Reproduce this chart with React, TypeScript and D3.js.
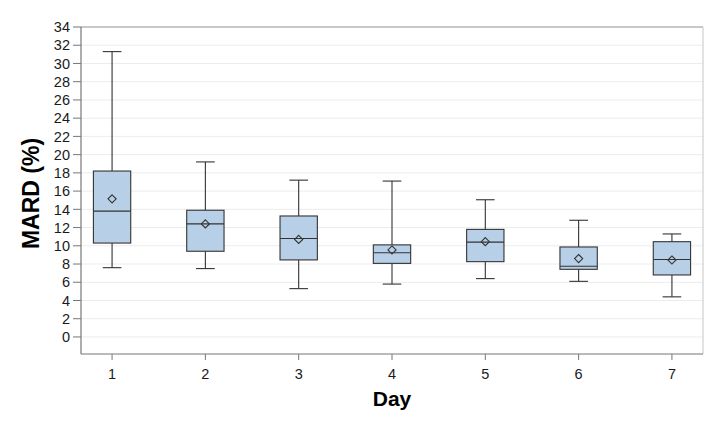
import React from "react";
import * as d3 from "d3";

const days = ["1", "2", "3", "4", "5", "6", "7"];
const whiskerLow = [7.6, 7.5, 5.3, 5.8, 6.4, 6.1, 4.4];
const q1 = [10.3, 9.4, 8.45, 8.07, 8.26, 7.42, 6.8];
const median = [13.8, 12.4, 10.8, 9.24, 10.4, 7.75, 8.5];
const q3 = [18.2, 13.9, 13.27, 10.1, 11.8, 9.87, 10.45];
const whiskerHigh = [31.3, 19.2, 17.2, 17.1, 15.05, 12.8, 11.3];
const means = [15.15, 12.4, 10.7, 9.54, 10.45, 8.6, 8.44];
const yTicks = d3.range(0, 35, 2);

const W = 724;
const H = 422;
const left = 81;
const right = 703;
const top = 27;
const bottom = 354;

export default function App() {
  const x = d3.scalePoint<string>().domain(days).range([left, right]).padding(0.333);
  const y = d3.scaleLinear().domain([-1.87, 34]).range([bottom, top]);
  const step = x.step();
  const boxW = step * 0.4;
  const capW = step * 0.2;
  const font = "'Liberation Sans', Arial, sans-serif";
  const diamond = d3.symbol().type(d3.symbolDiamond2).size(42)() as string;

  return (
    <svg width={W} height={H} style={{ position: "absolute", left: 0, top: 0, background: "#fff" }} fontFamily={font}>
      <rect x={0} y={0} width={W} height={H} fill="#fff" />
      {yTicks.map((t) => (
        <line key={"g" + t} x1={left} x2={right} y1={y(t)} y2={y(t)} stroke="#ececec" strokeWidth={1} />
      ))}
      {/* frame */}
      <line x1={left} x2={right} y1={top} y2={top} stroke="#9a9a9a" strokeWidth={1.2} />
      <line x1={right} x2={right} y1={top} y2={bottom} stroke="#cfcfcf" strokeWidth={1.2} />
      {days.map((d, i) => {
        const cx = x(d)!;
        return (
          <g key={d} stroke="#333" strokeWidth={1.1}>
            <line x1={cx} x2={cx} y1={y(whiskerHigh[i])} y2={y(q3[i])} />
            <line x1={cx} x2={cx} y1={y(q1[i])} y2={y(whiskerLow[i])} />
            <line x1={cx - capW / 2} x2={cx + capW / 2} y1={y(whiskerHigh[i])} y2={y(whiskerHigh[i])} />
            <line x1={cx - capW / 2} x2={cx + capW / 2} y1={y(whiskerLow[i])} y2={y(whiskerLow[i])} />
            <rect x={cx - boxW / 2} y={y(q3[i])} width={boxW} height={y(q1[i]) - y(q3[i])} fill="#b8cfe8" />
            <line x1={cx - boxW / 2} x2={cx + boxW / 2} y1={y(median[i])} y2={y(median[i])} />
            <path d={diamond} transform={`translate(${cx},${y(means[i])})`} fill="none" />
          </g>
        );
      })}
      {/* axes */}
      <line x1={left} x2={left} y1={top} y2={bottom} stroke="#777" strokeWidth={1.2} />
      <line x1={left} x2={right} y1={bottom} y2={bottom} stroke="#777" strokeWidth={1.2} />
      {yTicks.map((t) => (
        <g key={"t" + t}>
          <line x1={left - 8} x2={left} y1={y(t)} y2={y(t)} stroke="#777" />
          <text x={left - 11} y={y(t)} dy="0.36em" textAnchor="end" fontSize={14.5} fill="#1a1a1a">
            {t}
          </text>
        </g>
      ))}
      {days.map((d) => (
        <g key={"x" + d}>
          <line x1={x(d)!} x2={x(d)!} y1={bottom} y2={bottom + 6} stroke="#777" />
          <text x={x(d)!} y={379} textAnchor="middle" fontSize={14.5} fill="#1a1a1a">
            {d}
          </text>
        </g>
      ))}
      <text x={(left + right) / 2} y={406} textAnchor="middle" fontSize={21} fontWeight="bold" fill="#000">
        Day
      </text>
      <text
        transform={`translate(39,${(top + bottom) / 2 + 3}) rotate(-90)`}
        textAnchor="middle"
        fontSize={23}
        fontWeight="bold"
        fill="#000"
      >
        MARD (%)
      </text>
    </svg>
  );
}
